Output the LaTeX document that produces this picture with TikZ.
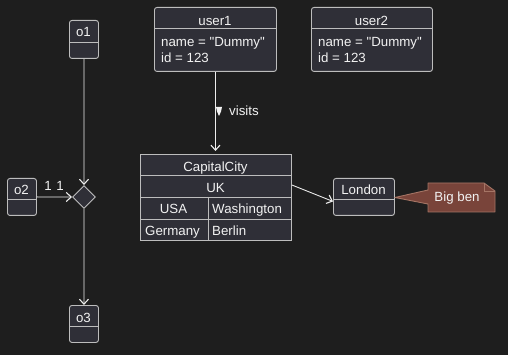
\documentclass[tikz,border=0pt]{standalone}
\usepackage{fontspec}
\setmainfont{Liberation Sans}[Ligatures=TeXOff]
\usetikzlibrary{arrows.meta,shapes.geometric,calc}
\definecolor{bg}{HTML}{1E1E1E}
\definecolor{boxfill}{HTML}{2F2F37}
\definecolor{boxline}{HTML}{BDBDBD}
\definecolor{lineclr}{HTML}{EEEEEE}
\definecolor{txt}{HTML}{F2F2F2}
\definecolor{notefill}{HTML}{79443A}
\definecolor{noteline}{HTML}{A57565}
\begin{document}
\begin{tikzpicture}[x=1pt,y=-1pt,
  font=\fontsize{13.3}{15}\selectfont,
  box/.style={draw=boxline, fill=boxfill, rounded corners=2.5pt, line width=0.9pt, inner sep=0pt, anchor=north west},
  tbl/.style={draw=boxline, fill=boxfill, line width=0.9pt, inner sep=0pt, anchor=north west},
  sepline/.style={draw=boxline, line width=0.9pt},
  lbl/.style={text=txt, inner sep=0pt},
  arr/.style={draw=lineclr, line width=0.9pt, -{Straight Barb[length=5pt,width=9pt,line width=1.1pt]}}]
\useasboundingbox (0,0) rectangle (508,355);
\fill[bg] (0,0) rectangle (508,355);

% o1, o2, o3
\node[box, minimum width=29pt, minimum height=38pt] (o1) at (69,20) {};
\draw[sepline] (o1.west |- 0,42) -- (o1.east |- 0,42);
\node[lbl, anchor=base] (o1t) at (83.5,36.5) {o1};
\node[box, minimum width=29pt, minimum height=37pt] (o2) at (7,178) {};
\draw[sepline] (o2.west |- 0,199) -- (o2.east |- 0,199);
\node[lbl, anchor=base] (o2t) at (21.5,194.5) {o2};
\node[box, minimum width=29pt, minimum height=37pt] (o3) at (69,305) {};
\draw[sepline] (o3.west |- 0,326) -- (o3.east |- 0,326);
\node[lbl, anchor=base] (o3t) at (83.5,322) {o3};

% diamond
\node[diamond, draw=boxline, fill=boxfill, line width=0.9pt, inner sep=0pt, minimum size=23pt, aspect=1] (dia) at (84,197) {};
\draw[arr] (o1.south) -- (dia.north);
\draw[arr] (o2.east) -- (dia.west);
\draw[arr] (dia.south) -- (o3.north);
\node[lbl] (m1) at (48,186) {1};
\node[lbl] (m2) at (60,186) {1};

% users
\node[box, minimum width=122pt, minimum height=64pt] (u1) at (154,7) {};
\draw[sepline] (u1.west |- 0,28) -- (u1.east |- 0,28);
\node[lbl, anchor=base] (u1t) at (215,26) {user1};
\node[lbl, anchor=base west] (u1a) at (161,46.5) {name = "Dummy"};
\node[lbl, anchor=base west] (u1b) at (161,63) {id = 123};

\node[box, minimum width=121pt, minimum height=64pt] (u2) at (311,7) {};
\draw[sepline] (u2.west |- 0,28) -- (u2.east |- 0,28);
\node[lbl, anchor=base] (u2t) at (371.5,26) {user2};
\node[lbl, anchor=base west] (u2a) at (318,46.5) {name = "Dummy"};
\node[lbl, anchor=base west] (u2b) at (318,63) {id = 123};

% CapitalCity table
\node[tbl, minimum width=151pt, minimum height=86pt] (cap) at (140,154) {};
\draw[sepline] (cap.west |- 0,175) -- (cap.east |- 0,175);
\draw[sepline] (cap.west |- 0,197) -- (cap.east |- 0,197);
\draw[sepline] (cap.west |- 0,219) -- (cap.east |- 0,219);
\draw[sepline] (208,197) -- (208,240);
\node[lbl, anchor=base] (capt) at (215.5,171.5) {CapitalCity};
\node[lbl, anchor=base] (uk) at (215.5,192.5) {UK};
\node[lbl, anchor=base] (usa) at (173.5,214) {USA};
\node[lbl, anchor=base west] (wash) at (212,214) {Washington};
\node[lbl, anchor=base west] (ger) at (145,235.5) {Germany};
\node[lbl, anchor=base west] (ber) at (212,235.5) {Berlin};

% visits arrow
\draw[arr, shorten >=3pt] (u1.south) -- (cap.north -| u1.south);
\fill[txt] (216,107) -- (222,107) -- (221,111.5) -- (219,116) -- (217,111.5) -- cycle;
\node[lbl, anchor=west] (vis) at (229,111) {visits};

% London
\node[box, minimum width=61pt, minimum height=37pt] (lon) at (333,178) {};
\draw[sepline] (lon.west |- 0,199) -- (lon.east |- 0,199);
\node[lbl, anchor=base] (lont) at (363.5,195) {London};
\draw[arr] (cap.east |- 0,185) -- ([yshift=-4.5pt]lon.west);

% note
\draw[draw=noteline, fill=notefill, line width=0.9pt, line join=round]
  (428,183) -- (484,183) -- (495,191) -- (495,212) -- (428,212) -- (428,204)
  -- (lon.east |- 0,197.5) -- (428,190) -- cycle;
\draw[draw=noteline, line width=0.9pt] (484,183) -- (484,191) -- (495,191);
\node[lbl, anchor=base] (note) at (457,201.5) {Big ben};
\end{tikzpicture}
\end{document}
